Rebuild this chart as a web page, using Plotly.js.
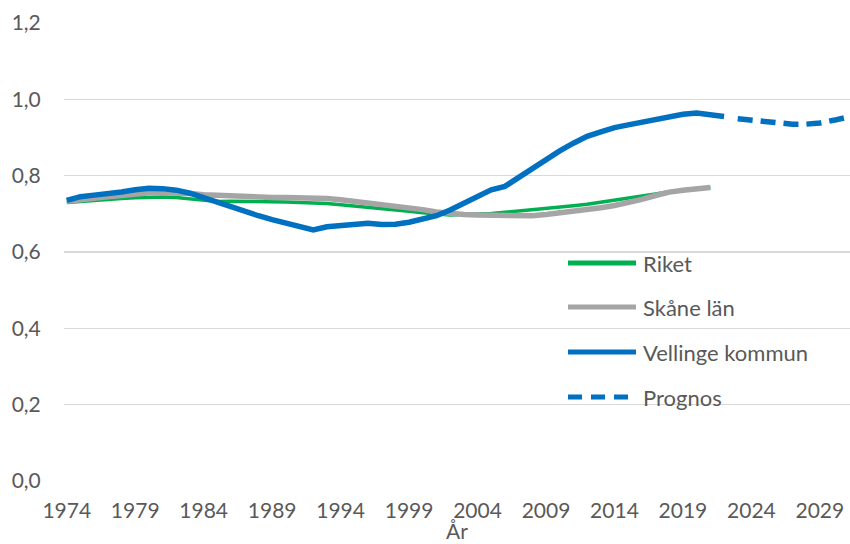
<!DOCTYPE html>
<html>
<head>
<meta charset="utf-8">
<script src="https://cdn.plot.ly/plotly-3.0.1.min.js"></script>
<style>html,body{margin:0;padding:0;background:#fff;}#chart{width:850px;height:544px;}</style>
</head>
<body>
<div id="chart"></div>
<script>
const years = [1974,1975,1976,1977,1978,1979,1980,1981,1982,1983,1984,1985,1986,1987,1988,1989,1990,1991,1992,1993,1994,1995,1996,1997,1998,1999,2000,2001,2002,2003,2004,2005,2006,2007,2008,2009,2010,2011,2012,2013,2014,2015,2016,2017,2018,2019,2020,2021];
const riket = [0.730,0.733,0.736,0.738,0.740,0.742,0.744,0.744,0.743,0.740,0.735,0.732,0.733,0.733,0.732,0.732,0.731,0.730,0.729,0.727,0.724,0.721,0.718,0.715,0.711,0.707,0.703,0.699,0.697,0.698,0.699,0.701,0.704,0.707,0.710,0.713,0.717,0.721,0.725,0.730,0.735,0.740,0.745,0.752,0.758,0.762,0.766,0.769];
const skane = [0.733,0.738,0.742,0.745,0.748,0.752,0.755,0.755,0.755,0.753,0.750,0.748,0.746,0.744,0.743,0.743,0.743,0.743,0.742,0.740,0.737,0.733,0.729,0.726,0.722,0.717,0.711,0.705,0.700,0.698,0.697,0.696,0.694,0.693,0.695,0.698,0.702,0.706,0.711,0.716,0.722,0.729,0.738,0.748,0.757,0.762,0.765,0.769];
const vellingeYears = [1974,1975,1976,1977,1978,1979,1980,1981,1982,1983,1984,1985,1986,1987,1988,1989,1990,1991,1992,1993,1994,1995,1996,1997,1998,1999,2000,2001,2002,2003,2004,2005,2006,2007,2008,2009,2010,2011,2012,2013,2014,2015,2016,2017,2018,2019,2020,2021,2022];
const vellinge = [0.735,0.745,0.749,0.752,0.757,0.763,0.767,0.766,0.762,0.754,0.742,0.731,0.717,0.706,0.695,0.685,0.677,0.666,0.658,0.666,0.669,0.671,0.675,0.672,0.673,0.678,0.685,0.695,0.710,0.727,0.745,0.763,0.772,0.795,0.820,0.845,0.865,0.885,0.903,0.915,0.926,0.933,0.940,0.946,0.954,0.961,0.964,0.960,0.955];
const prognosYears = [2023,2024,2025,2026,2027,2028,2029,2030,2031];
const prognos = [0.949,0.945,0.941,0.937,0.935,0.935,0.938,0.945,0.953];
const xTicks = [1974,1979,1984,1989,1994,1999,2004,2009,2014,2019,2024,2029];
const yTicks = [0,0.2,0.4,0.6,0.8,1.0,1.2];
const yTickText = ["0,0","0,2","0,4","0,6","0,8","1,0","1,2"];
const names = ["Riket","Skåne län","Vellinge kommun","Prognos"];
const colors = ["#00B050","#A5A5A5","#0070C0","#0070C0"];
const xTitle = "År";

const FONT = "Lato, 'Open Sans', sans-serif";
const TXT = "#595959";

const traces = [
  {x: years, y: riket, name: names[0], mode: "lines", line: {color: colors[0], width: 3.5}},
  {x: years, y: skane, name: names[1], mode: "lines", line: {color: colors[1], width: 5.5}},
  {x: vellingeYears, y: vellinge, name: names[2], mode: "lines", line: {color: colors[2], width: 5.5}},
  {x: prognosYears, y: prognos, name: names[3], mode: "lines", line: {color: colors[3], width: 5.5, dash: "15px,8px"}}
];

// custom legend (pixel positions converted to paper coords)
const L = 64, W = 786, B = 481, H = 458;
const px = v => (v - L) / W;
const py = v => (B - v) / H;
const legY = [263, 307, 352, 397];
const shapes = [], annotations = [];
names.forEach((n, i) => {
  shapes.push({type: "line", xref: "paper", yref: "paper",
    x0: px(568), x1: px(636), y0: py(legY[i]), y1: py(legY[i]),
    line: {color: colors[i], width: 5, dash: i === 3 ? "14px,9px" : "solid"}});
  annotations.push({xref: "paper", yref: "paper", x: px(641), y: py(legY[i]),
    xanchor: "left", yanchor: "middle", showarrow: false, text: n,
    font: {family: FONT, size: 22, color: TXT}});
});
// x-axis title
annotations.push({xref: "paper", yref: "paper", x: 0.5, y: py(544),
  xanchor: "center", yanchor: "bottom", showarrow: false, text: xTitle,
  borderpad: 0, font: {family: FONT, size: 21, color: TXT}});

const layout = {
  width: 850, height: 544,
  margin: {l: 64, r: 0, t: 23, b: 63},
  paper_bgcolor: "#fff", plot_bgcolor: "#fff",
  showlegend: false,
  font: {family: FONT, size: 21, color: TXT},
  xaxis: {
    range: [1973.8, 2031.2], tickvals: xTicks, ticktext: xTicks.map(String),
    showgrid: false, zeroline: false, showline: false,
    ticks: "outside", ticklen: 11, tickcolor: "rgba(0,0,0,0)",
    tickfont: {family: FONT, size: 21, color: TXT},
    automargin: false
  },
  yaxis: {
    range: [0, 1.2], tickvals: yTicks, ticktext: yTickText,
    showgrid: true, gridcolor: "#D9D9D9", gridwidth: 1.5,
    zeroline: false, showline: false,
    ticks: "outside", ticklen: 18, tickcolor: "rgba(0,0,0,0)",
    tickfont: {family: FONT, size: 21, color: TXT},
    automargin: false
  },
  shapes: shapes,
  annotations: annotations
};

Plotly.newPlot("chart", traces, layout, {displayModeBar: false, staticPlot: true});
</script>
</body>
</html>
